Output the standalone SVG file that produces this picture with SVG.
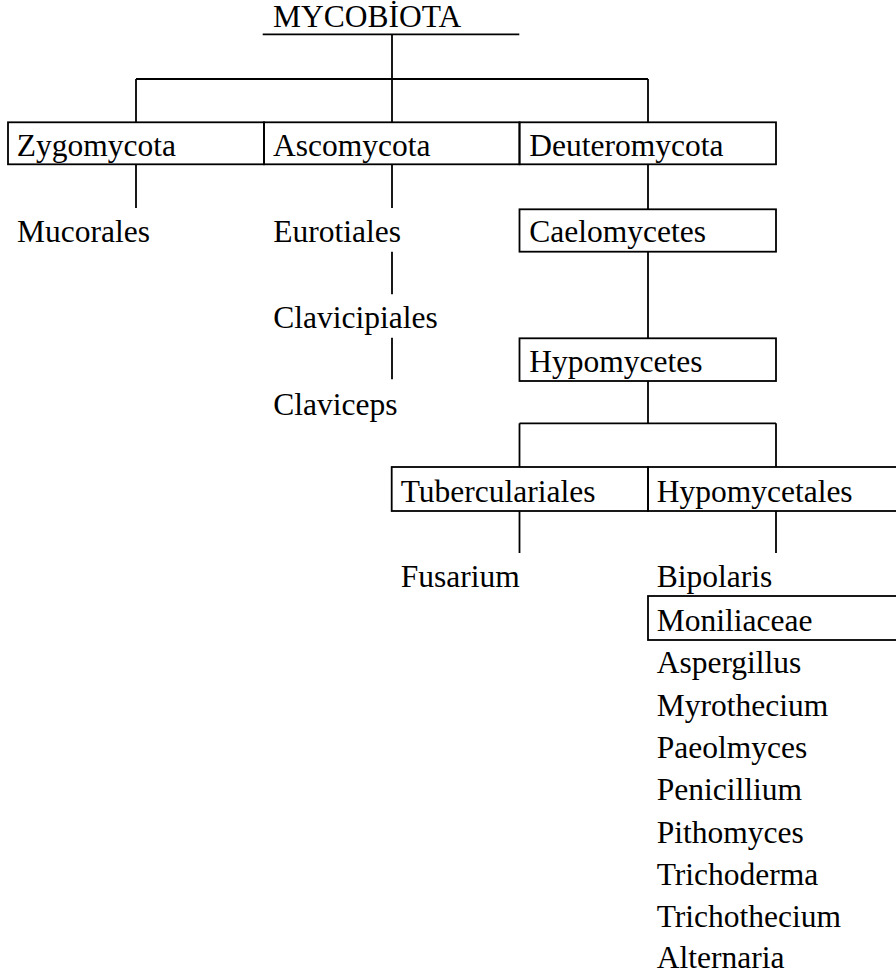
<svg xmlns="http://www.w3.org/2000/svg" width="896" height="976" viewBox="0 0 896 976">
<style>
.b{fill:none;stroke:#000;stroke-width:1.8}
.l{fill:none;stroke:#000;stroke-width:1.8}
</style>
<rect width="896" height="976" fill="#fff"/>
<g id="connectors">
<line class="l" x1="262.7" y1="34.3" x2="519.3" y2="34.3"/>
<line class="l" x1="392" y1="34.3" x2="392" y2="79"/>
<line class="l" x1="136" y1="79" x2="648" y2="79"/>
<line class="l" x1="136" y1="79" x2="136" y2="122.3"/>
<line class="l" x1="392" y1="79" x2="392" y2="122.3"/>
<line class="l" x1="648" y1="79" x2="648" y2="122.3"/>
<line class="l" x1="136" y1="164.3" x2="136" y2="208"/>
<line class="l" x1="392" y1="164.3" x2="392" y2="208"/>
<line class="l" x1="392" y1="251.7" x2="392" y2="294.3"/>
<line class="l" x1="392" y1="337.7" x2="392" y2="379.3"/>
<line class="l" x1="648" y1="164.3" x2="648" y2="209.3"/>
<line class="l" x1="648" y1="251.7" x2="648" y2="338.3"/>
<line class="l" x1="648" y1="381" x2="648" y2="423.3"/>
<line class="l" x1="519.5" y1="423.3" x2="776" y2="423.3"/>
<line class="l" x1="519.5" y1="423.3" x2="519.5" y2="467"/>
<line class="l" x1="776" y1="423.3" x2="776" y2="467"/>
<line class="l" x1="519.5" y1="511" x2="519.5" y2="553"/>
<line class="l" x1="776" y1="511" x2="776" y2="553"/>
</g>
<g font-family="'Liberation Serif', 'Times New Roman', Tinos, 'DejaVu Serif', serif" font-size="31.5" fill="#000">
<g id="mycobiota"><text x="273" y="27">MYCOBİOTA</text></g>
<g id="zygomycota"><rect class="b" x="8" y="122.3" width="256" height="42"/><text x="16.7" y="155.5">Zygomycota</text></g>
<g id="ascomycota"><rect class="b" x="264" y="122.3" width="255.5" height="42"/><text x="273" y="155.5">Ascomycota</text></g>
<g id="deuteromycota"><rect class="b" x="519.5" y="122.3" width="256.5" height="42"/><text x="529.3" y="155.5">Deuteromycota</text></g>
<g id="mucorales"><text x="17" y="241.7">Mucorales</text></g>
<g id="eurotiales"><text x="273.3" y="241.7">Eurotiales</text></g>
<g id="clavicipiales"><text x="273.3" y="328.3">Clavicipiales</text></g>
<g id="claviceps"><text x="273.3" y="415">Claviceps</text></g>
<g id="caelomycetes"><rect class="b" x="519.5" y="209.3" width="256.5" height="42.4"/><text x="529.3" y="241.7">Caelomycetes</text></g>
<g id="hypomycetes"><rect class="b" x="519.5" y="338.3" width="256.5" height="42.7"/><text x="529.3" y="371.7">Hypomycetes</text></g>
<g id="tuberculariales"><rect class="b" x="391.7" y="467" width="256.3" height="44"/><text x="400.7" y="501.7">Tuberculariales</text></g>
<g id="hypomycetales"><rect class="b" x="648" y="467" width="252" height="44"/><text x="656.7" y="501.7">Hypomycetales</text></g>
<g id="fusarium"><text x="400.7" y="587.3">Fusarium</text></g>
<g id="bipolaris"><text x="656.7" y="587">Bipolaris</text></g>
<g id="moniliaceae"><rect class="b" x="648" y="596" width="252" height="44"/><text x="656.7" y="631">Moniliaceae</text></g>
<g id="genera">
<text x="656.7" y="673">Aspergillus</text>
<text x="656.7" y="716">Myrothecium</text>
<text x="656.7" y="758">Paeolmyces</text>
<text x="656.7" y="800">Penicillium</text>
<text x="656.7" y="843">Pithomyces</text>
<text x="656.7" y="884.5">Trichoderma</text>
<text x="656.7" y="927">Trichothecium</text>
<text x="656.7" y="968">Alternaria</text>
</g>
</g>
</svg>
